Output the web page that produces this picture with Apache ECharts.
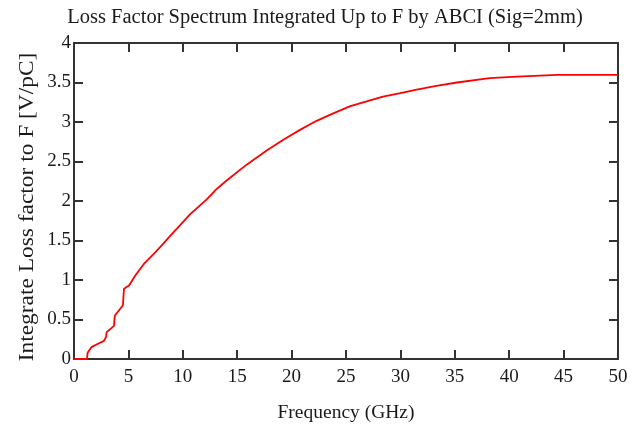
<!DOCTYPE html>
<html><head><meta charset="utf-8">
<script src="https://cdn.jsdelivr.net/npm/echarts@6/dist/echarts.min.js"></script>
<style>html,body{margin:0;padding:0;background:#fff}#c{width:638px;height:428px}</style>
</head><body><div id="c"></div>
<script>
const freq = [0, 1.2, 1.25, 1.6, 2.3, 2.75, 2.95, 3.0, 3.68, 3.72, 3.76, 4.5, 4.55, 4.6, 5.06, 5.6, 6.4, 7.29, 8.0, 8.82, 9.8, 10.66, 12.2, 13.1, 14.03, 15.87, 17.71, 19.24, 20.77, 22.3, 23.83, 25.4, 26.9, 28.4, 30.0, 31.5, 33.3, 35.2, 38.2, 40.7, 44.4, 50];
const loss = [0, 0, 0.08, 0.15, 0.2, 0.23, 0.28, 0.34, 0.42, 0.5, 0.55, 0.68, 0.8, 0.89, 0.93, 1.05, 1.2, 1.325, 1.43, 1.556, 1.70, 1.83, 2.02, 2.15, 2.26, 2.46, 2.64, 2.776, 2.90, 3.015, 3.11, 3.20, 3.26, 3.32, 3.365, 3.41, 3.457, 3.50, 3.555, 3.575, 3.596, 3.596];
const titleText = 'Loss Factor Spectrum Integrated Up to F by ABCI (Sig=2mm)';
const xName = 'Frequency (GHz)';
const yName = 'Integrate Loss factor to F [V/pC]';

const font = 'Liberation Serif';
const txt = '#1a1a1a';
const axisLine = {show: true, onZero: false, lineStyle: {color: '#333', width: 2}};
const tick = {show: true, inside: true, length: 9, lineStyle: {color: '#333', width: 2}};
const chart = echarts.init(document.getElementById('c'));
chart.setOption({
  animation: false,
  backgroundColor: '#fff',
  title: {text: titleText, left: 320, top: 2, textAlign: 'center',
    textStyle: {fontFamily: font, fontSize: 20.5, fontWeight: 'normal', color: txt}},
  grid: {left: 74, right: 20, top: 43, bottom: 68},
  graphic: [{
    type: 'text', x: 28, y: 207, rotation: Math.PI / 2, scaleX: 1.17, silent: true,
    style: {text: yName, font: '20px "Liberation Serif"', fill: txt,
      align: 'center', verticalAlign: 'middle'}
  }],
  xAxis: [
    {type: 'value', min: 0, max: 50, interval: 5, position: 'bottom',
     name: xName, nameLocation: 'middle', nameGap: 44,
     nameTextStyle: {fontFamily: font, fontSize: 19.5, color: txt},
     axisLine, axisTick: tick, splitLine: {show: false},
     axisLabel: {fontFamily: font, fontSize: 19, color: txt, margin: 9}},
    {type: 'value', min: 0, max: 50, interval: 5, position: 'top',
     axisLine, axisTick: tick, splitLine: {show: false}, axisLabel: {show: false}}
  ],
  yAxis: [
    {type: 'value', min: 0, max: 4, interval: 0.5, position: 'left',
     axisLine, axisTick: tick, splitLine: {show: false},
     axisLabel: {fontFamily: font, fontSize: 19, color: txt, margin: 3}},
    {type: 'value', min: 0, max: 4, interval: 0.5, position: 'right',
     axisLine, axisTick: tick, splitLine: {show: false}, axisLabel: {show: false}}
  ],
  series: [{
    type: 'line', xAxisIndex: 0, yAxisIndex: 0, showSymbol: false,
    lineStyle: {color: '#ff0000', width: 1.8},
    data: freq.map((f, i) => [f, loss[i]])
  }]
});
</script></body></html>
